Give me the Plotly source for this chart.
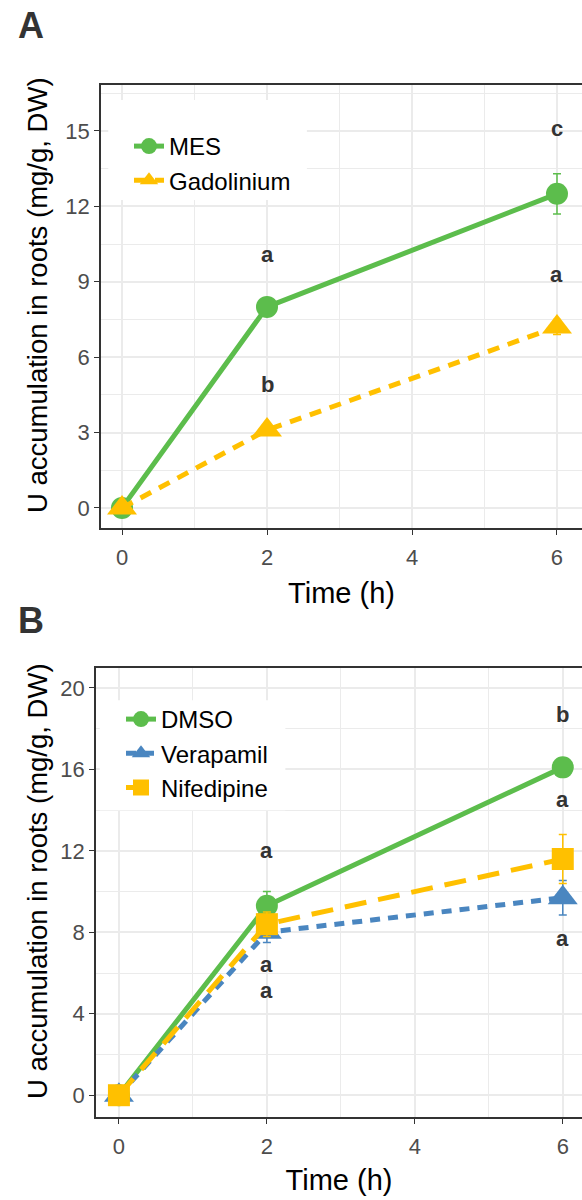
import plotly.graph_objects as go

# ---- data -------------------------------------------------------------
time_h = [0, 2, 6]

# Panel A: MES vs Gadolinium
mes = [0.0, 8.0, 12.5]
mes_err = [0.1, 0.25, 0.8]
gad = [0.0, 3.1, 7.2]
gad_err = [0.1, 0.2, 0.3]
letters_a_x = [2, 2, 6, 6]
letters_a_y = [10.1, 4.9, 15.1, 9.3]
letters_a = ["a", "b", "c", "a"]

# Panel B: DMSO vs channel blockers
dmso = [0.0, 9.3, 16.1]
dmso_err = [0.1, 0.7, 0.3]
verapamil = [0.0, 8.0, 9.7]
verapamil_err = [0.1, 0.5, 0.85]
nifedipine = [0.0, 8.4, 11.6]
nifedipine_err = [0.1, 0.6, 1.2]
letters_b_x = [2, 2, 2, 6, 6, 6]
letters_b_y = [12.0, 6.4, 5.15, 18.7, 14.5, 7.7]
letters_b = ["a", "a", "a", "b", "a", "a"]

Y_TITLE = "U accumulation in roots (mg/g, DW)"

# ---- style --------------------------------------------------------------
FONT = "Liberation Sans, Arial, sans-serif"
GREEN = "#5cbd4c"
YELLOW = "#ffc000"
BLUE = "#4a86c0"
GRID = "#ebebeb"
AXIS = "#333333"

W, H = 582, 1200


def series(x, y, err, name, color, symbol, size, dash, xa, ya, legend):
    return go.Scatter(
        x=x, y=y, name=name, mode="lines+markers",
        line=dict(color=color, width=5, dash=dash),
        marker=dict(color=color, symbol=symbol, size=size),
        error_y=dict(type="data", array=err, color=color, thickness=1.5, width=4),
        xaxis=xa, yaxis=ya, legend=legend,
    )


fig = go.Figure()
fig.add_trace(series(time_h, mes, mes_err, "MES", GREEN, "circle", 22, "solid", "x", "y", "legend"))
fig.add_trace(series(time_h, gad, gad_err, "Gadolinium", YELLOW, "triangle-up", 26, "12px,9px", "x", "y", "legend"))
fig.add_trace(series(time_h, dmso, dmso_err, "DMSO", GREEN, "circle", 22, "solid", "x2", "y2", "legend2"))
fig.add_trace(series(time_h, verapamil, verapamil_err, "Verapamil", BLUE, "triangle-up", 26, "10px,8px", "x2", "y2", "legend2"))
fig.add_trace(series(time_h, nifedipine, nifedipine_err, "Nifedipine", YELLOW, "square", 22, "22px,12px", "x2", "y2", "legend2"))


def xaxis_cfg(domain, rng, anchor, standoff):
    return dict(
        domain=domain, range=rng, anchor=anchor,
        tickmode="linear", tick0=0, dtick=2,
        showgrid=True, gridcolor=GRID, gridwidth=1.6,
        minor=dict(dtick=1, tick0=0, showgrid=True, gridcolor=GRID, gridwidth=0.9),
        showline=True, linecolor=AXIS, linewidth=1.6, mirror=True,
        ticks="outside", ticklen=5, tickwidth=1.4, tickcolor=AXIS,
        ticklabelstandoff=4,
        tickfont=dict(family=FONT, size=22, color="#4d4d4d"),
        title=dict(text="Time (h)", font=dict(family=FONT, size=29, color="black"), standoff=standoff),
        zeroline=False,
    )


def yaxis_cfg(domain, rng, anchor, dtick):
    return dict(
        domain=domain, range=rng, anchor=anchor,
        tickmode="linear", tick0=0, dtick=dtick,
        showgrid=True, gridcolor=GRID, gridwidth=1.6,
        minor=dict(dtick=dtick / 2, tick0=0, showgrid=True, gridcolor=GRID, gridwidth=0.9),
        showline=True, linecolor=AXIS, linewidth=1.6, mirror=False,
        ticks="outside", ticklen=5, tickwidth=1.4, tickcolor=AXIS,
        tickfont=dict(family=FONT, size=22, color="#4d4d4d"),
        zeroline=False,
    )


# panel A occupies px x 101..582, y 85..528 ; panel B px x 96..582, y 668..1117
fig.update_layout(
    width=W, height=H,
    margin=dict(l=0, r=0, t=0, b=0),
    paper_bgcolor="white", plot_bgcolor="white",
    font=dict(family=FONT),
    xaxis=xaxis_cfg([101 / W, 1.0], [-0.29, 6.345], "y", 13),
    yaxis=yaxis_cfg([1 - 528 / H, 1 - 85 / H], [-0.8, 16.83], "x", 3),
    xaxis2=xaxis_cfg([96 / W, 1.0], [-0.31, 6.26], "y2", 11),
    yaxis2=yaxis_cfg([1 - 1117 / H, 1 - 668 / H], [-1.07, 20.98], "x2", 4),
    legend=dict(
        x=129 / W, y=1 - 124 / H, xanchor="left", yanchor="top",
        bgcolor="rgba(0,0,0,0)", font=dict(family=FONT, size=24, color="black"),
        itemwidth=30, tracegroupgap=0,
    ),
    legend2=dict(
        x=121 / W, y=1 - 697 / H, xanchor="left", yanchor="top",
        bgcolor="rgba(0,0,0,0)", font=dict(family=FONT, size=24, color="black"),
        itemwidth=30, tracegroupgap=0,
    ),
    showlegend=True,
)

# white backing behind each legend, above grid lines and below data
fig.add_shape(type="rect", xref="x", yref="y", x0=-0.19, x1=2.55, y0=12.25, y1=16.23,
              fillcolor="white", line=dict(width=0), layer="between")
fig.add_shape(type="rect", xref="x2", yref="y2", x0=-0.26, x1=2.25, y0=14.0, y1=19.4,
              fillcolor="white", line=dict(width=0), layer="between")

# y-axis titles, rotated
for ycen in (1 - 295 / H, 1 - 881 / H):
    fig.add_annotation(x=37 / W, y=ycen, xref="paper", yref="paper", text=Y_TITLE,
                       textangle=-90, showarrow=False, xanchor="center", yanchor="middle",
                       font=dict(family=FONT, size=27.5, color="black"))

# significance letters
for xv, yv, t in zip(letters_a_x, letters_a_y, letters_a):
    fig.add_annotation(x=xv, y=yv, xref="x", yref="y", text=t, showarrow=False,
                       font=dict(family=FONT, size=22, color="#333333", weight="bold"))
for xv, yv, t in zip(letters_b_x, letters_b_y, letters_b):
    fig.add_annotation(x=xv, y=yv, xref="x2", yref="y2", text=t, showarrow=False,
                       font=dict(family=FONT, size=22, color="#333333", weight="bold"))

# panel tags
fig.add_annotation(x=16 / W, y=1 - 25 / H, xref="paper", yref="paper", text="<b>A</b>",
                   showarrow=False, xanchor="left", yanchor="middle",
                   font=dict(family=FONT, size=36, color="#333333"))
fig.add_annotation(x=16 / W, y=1 - 620 / H, xref="paper", yref="paper", text="<b>B</b>",
                   showarrow=False, xanchor="left", yanchor="middle",
                   font=dict(family=FONT, size=36, color="#333333"))

fig.write_html("out.html")
